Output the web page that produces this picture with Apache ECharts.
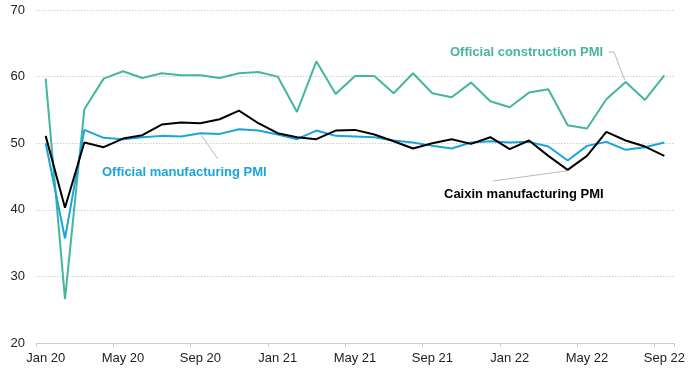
<!DOCTYPE html>
<html>
<head>
<meta charset="utf-8">
<script src="https://cdn.jsdelivr.net/npm/echarts@6/dist/echarts.min.js"></script>
<style>html,body{margin:0;padding:0;background:#fff}#c{width:700px;height:370px}</style>
</head>
<body>
<div id="c"></div>
<script>
var months = ['Jan 20','Feb 20','Mar 20','Apr 20','May 20','Jun 20','Jul 20','Aug 20','Sep 20','Oct 20','Nov 20','Dec 20',
  'Jan 21','Feb 21','Mar 21','Apr 21','May 21','Jun 21','Jul 21','Aug 21','Sep 21','Oct 21','Nov 21','Dec 21',
  'Jan 22','Feb 22','Mar 22','Apr 22','May 22','Jun 22','Jul 22','Aug 22','Sep 22'];
var construction = [59.7,26.6,55.1,59.7,60.8,59.8,60.5,60.2,60.2,59.8,60.5,60.7,
  60.0,54.7,62.3,57.4,60.1,60.1,57.5,60.5,57.5,56.9,59.1,56.3,
  55.4,57.6,58.1,52.7,52.2,56.6,59.2,56.5,60.2];
var officialMfg = [50.0,35.7,52.0,50.8,50.6,50.9,51.1,51.0,51.5,51.4,52.1,51.9,
  51.3,50.6,51.9,51.1,51.0,50.9,50.4,50.1,49.6,49.2,50.1,50.3,
  50.1,50.2,49.5,47.4,49.6,50.2,49.0,49.4,50.1];
var caixin = [51.1,40.3,50.1,49.4,50.7,51.2,52.8,53.1,53.0,53.6,54.9,53.0,
  51.5,50.9,50.6,51.9,52.0,51.3,50.3,49.2,50.0,50.6,49.9,50.9,
  49.1,50.4,48.1,46.0,48.1,51.7,50.4,49.5,48.1];
var yTicks = {min:20, max:70, interval:10};

var FONT = '"Liberation Sans", Arial, sans-serif';
var TEAL = '#45b5a0', BLUE = '#1ba3dc', BLACK = '#000000';

var chart = echarts.init(document.getElementById('c'), null, {renderer:'canvas'});
chart.setOption({
  animation:false,
  backgroundColor:'#ffffff',
  grid:{left:36, right:26, top:10, bottom:27, containLabel:false},
  xAxis:{
    type:'category', data:months, boundaryGap:true,
    axisLine:{show:true, lineStyle:{color:'#cfcfcf', width:1}},
    axisTick:{show:true, interval:3, length:4, lineStyle:{color:'#cfcfcf'}},
    axisLabel:{interval:3, color:'#222', fontSize:13, fontFamily:FONT, margin:9},
    splitLine:{show:false}
  },
  yAxis:{
    type:'value', min:yTicks.min, max:yTicks.max, interval:yTicks.interval,
    axisLine:{show:false}, axisTick:{show:false},
    axisLabel:{color:'#222', fontSize:13, fontFamily:FONT, margin:11},
    splitLine:{show:true, lineStyle:{color:'#d0d0d0', type:[1.5,1.5], width:1}}
  },
  series:[
    {name:'Official construction PMI', type:'line', data:construction, symbol:'none', lineStyle:{color:TEAL, width:2}, z:2},
    {name:'Official manufacturing PMI', type:'line', data:officialMfg, symbol:'none', lineStyle:{color:BLUE, width:2}, z:3},
    {name:'Caixin manufacturing PMI', type:'line', data:caixin, symbol:'none', lineStyle:{color:BLACK, width:2}, z:4}
  ]
});

function pt(idx, val){ return chart.convertToPixel({gridIndex:0}, [idx, val]); }
var pCon = pt(30, construction[30]);
var pMfg = pt(8, officialMfg[8]);
var pCx = pt(27, caixin[27]);
var leader = {stroke:'#a8a8a8', lineWidth:0.8, fill:null};
chart.setOption({
  graphic:[
    {type:'text', left:450, top:46, style:{text:'Official construction PMI', fill:TEAL, font:'bold 13px '+FONT}},
    {type:'text', left:102, top:166, style:{text:'Official manufacturing PMI', fill:BLUE, font:'bold 13px '+FONT}},
    {type:'text', left:444, top:188, style:{text:'Caixin manufacturing PMI', fill:BLACK, font:'bold 13px '+FONT}},
    {type:'polyline', shape:{points:[[609,52],[614,52],[pCon[0]-1,pCon[1]-2]]}, style:leader, z:1},
    {type:'polyline', shape:{points:[[pMfg[0]+1,pMfg[1]+2],[218,159]]}, style:leader, z:1},
    {type:'polyline', shape:{points:[[493,181],[pCx[0]-1,pCx[1]+1]]}, style:leader, z:1}
  ]
});
</script>
</body>
</html>
